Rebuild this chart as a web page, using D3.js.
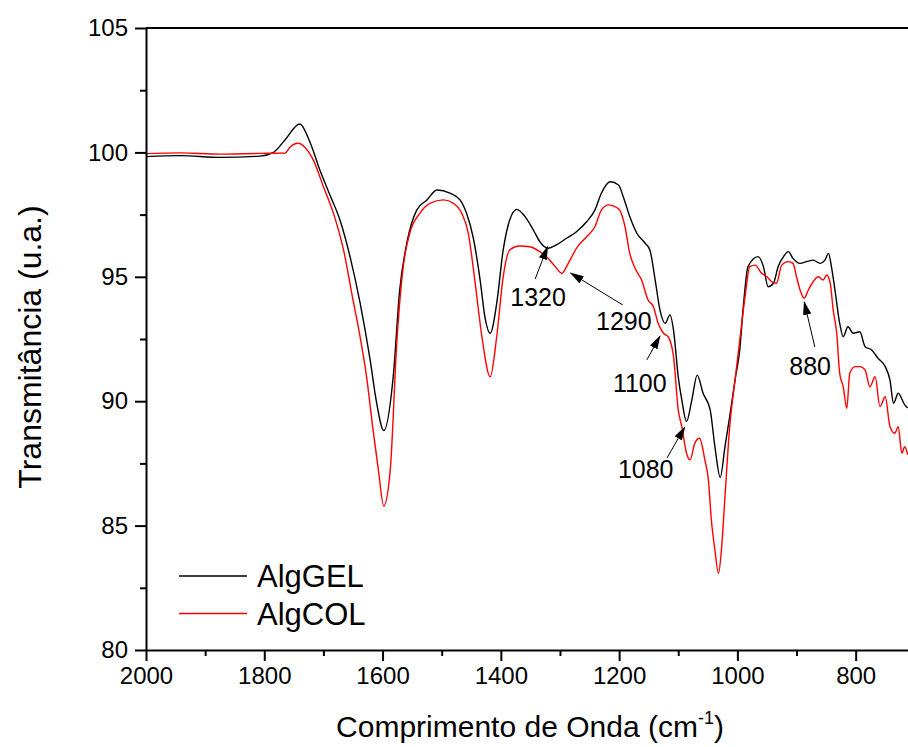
<!DOCTYPE html>
<html>
<head>
<meta charset="utf-8">
<script src="https://cdn.jsdelivr.net/npm/d3@7"></script>
<style>
  html, body { margin: 0; padding: 0; background: #fff; }
  svg { display: block; font-family: "Liberation Sans", Arial, sans-serif; }
</style>
</head>
<body>
<svg id="chart" width="908" height="747"></svg>
<script>
// ---------- DATA ----------
const seriesNames = ["AlgGEL", "AlgCOL"];

const wavenumberGEL = [2000,1942,1875,1807,1785,1765,1740,1723,1706,1689,1672,1655,1638,1621,1610,1598,1582,1571,1559,1542,1525,1508,1486,1469,1458,1447,1435,1427,1418,1407,1396,1385,1373,1359,1345,1334,1320,1306,1289,1272,1255,1241,1230,1215,1201,1193,1182,1170,1156,1148,1139,1131,1122,1114,1108,1100,1094,1086,1077,1068,1058,1046,1038,1029,1021,1013,1004,996,990,982,965,956,948,939,931,922,914,906,894,883,872,860,852,846,841,835,827,821,813,804,793,784,773,762,750,742,736,728,717,712];
const transGEL = [99.83,99.87,99.80,99.85,99.99,100.5,101.14,100.43,99.29,98.29,97.28,95.81,93.95,91.66,89.93,88.82,90.98,94.47,96.35,97.69,98.09,98.49,98.36,98.09,97.55,96.61,94.87,93.40,92.73,93.93,96.08,97.28,97.71,97.42,96.88,96.41,96.15,96.28,96.55,96.81,97.21,97.68,98.36,98.82,98.69,98.22,97.42,96.75,96.35,96.08,94.87,93.67,93.13,93.47,92.86,90.98,90.05,89.18,90.05,91.05,90.32,89.65,88.17,86.94,88.17,89.38,90.85,92.06,93.80,95.41,95.81,95.41,94.6,94.74,95.41,95.81,96.01,95.74,95.54,95.61,95.67,95.54,95.67,95.94,95.41,94.47,93.13,92.59,92.99,92.73,92.79,92.19,92.06,91.72,91.39,90.85,89.92,90.32,89.85,89.73];

const wavenumberCOL = [2000,1942,1875,1807,1765,1757,1743,1731,1717,1700,1683,1666,1650,1638,1627,1616,1607,1598,1587,1576,1565,1554,1537,1520,1497,1480,1466,1455,1444,1432,1418,1407,1396,1385,1368,1351,1334,1320,1308,1297,1286,1272,1255,1241,1230,1218,1207,1199,1190,1182,1173,1162,1151,1142,1134,1125,1117,1108,1100,1094,1086,1080,1072,1064,1055,1049,1044,1038,1032,1027,1021,1013,1004,996,987,979,970,959,950,942,934,925,914,906,900,894,887,880,872,863,855,849,843,838,832,827,821,815,810,801,793,784,776,767,759,750,742,734,728,722,717,712];
const transCOL = [99.95,99.98,99.93,99.96,99.97,100.2,100.37,100.2,99.69,98.62,97.55,96.08,94.07,92.59,90.98,88.84,87.23,85.79,87.23,92.33,95.41,96.75,97.55,97.95,98.09,97.95,97.55,96.75,94.87,92.59,90.98,92.59,95.0,96.08,96.24,96.21,96.01,95.74,95.41,95.14,95.54,96.15,96.61,97.01,97.68,97.89,97.82,97.68,97.01,95.94,95.34,94.87,94.07,93.80,93.13,92.73,92.59,91.79,89.65,88.98,87.91,87.64,88.31,88.51,87.64,86.83,85.23,84.02,83.08,84.02,86.16,88.98,90.85,92.46,94.20,95.41,95.47,95.14,95.0,94.80,94.74,95.47,95.61,95.54,95.0,94.47,94.14,94.47,94.80,95.0,94.87,95.07,94.74,93.67,92.73,91.12,90.58,89.71,91.12,91.39,91.39,91.25,90.58,90.98,89.78,90.18,88.98,88.71,88.98,87.91,88.17,87.84];

const xTicksMajor = [2000, 1800, 1600, 1400, 1200, 1000, 800];
const xTicksMinor = [1900, 1700, 1500, 1300, 1100, 900, 700];
const yTicksMajor = [80, 85, 90, 95, 100, 105];
const yTicksMinor = [82.5, 87.5, 92.5, 97.5, 102.5];

const annLabels = ["1320", "1290", "1100", "1080", "880"];
const annTail = [[1342, 94.91], [1194, 93.87], [1153, 91.66], [1119, 87.72], [869, 92.18]];
const annHead = [[1321, 96.21], [1282, 95.15], [1131, 92.62], [1089, 88.96], [887, 93.99]];
const annText = [[1337, 93.83], [1192, 92.86], [1165, 90.37], [1155, 86.91], [877, 91.05]];

const xTitle = "Comprimento de Onda (cm";
const yTitle = "Transmitância (u.a.)";

// ---------- LAYOUT ----------
const M = { left: 146, right: 908, top: 28, bottom: 650 };
const colors = ["#000000", "#ff0000"];

const svg = d3.select("#chart");

const x = d3.scaleLinear().domain([2000, 711.5]).range([M.left, M.right]);
const y = d3.scaleLinear().domain([80, 105]).range([M.bottom, M.top]);

const defs = svg.append("defs");
defs.append("clipPath").attr("id", "plotclip")
  .append("rect").attr("x", M.left).attr("y", M.top)
  .attr("width", M.right - M.left).attr("height", M.bottom - M.top);

defs.append("marker")
  .attr("id", "arrow")
  .attr("markerUnits", "userSpaceOnUse")
  .attr("markerWidth", 14).attr("markerHeight", 10)
  .attr("refX", 13).attr("refY", 5)
  .attr("orient", "auto")
  .append("path").attr("d", "M0,0.8 L14,5 L0,9.2 Z").attr("fill", "#000");

// ---------- SERIES ----------
const series = [
  { name: seriesNames[0], w: wavenumberGEL, t: transGEL, color: colors[0] },
  { name: seriesNames[1], w: wavenumberCOL, t: transCOL, color: colors[1] }
];

const line = d3.line().x(d => x(d[0])).y(d => y(d[1])).curve(d3.curveMonotoneX);

const plotG = svg.append("g").attr("clip-path", "url(#plotclip)");
series.forEach(s => {
  plotG.append("path")
    .datum(s.w.map((w, i) => [w, s.t[i]]))
    .attr("d", line)
    .attr("fill", "none")
    .attr("stroke", s.color)
    .attr("stroke-width", 1.4)
    .attr("stroke-linejoin", "round");
});

// ---------- AXES ----------
const fontTick = 24;
const fmt = d3.format("d");
svg.append("g").attr("transform", `translate(0,${M.bottom})`)
  .call(d3.axisBottom(x).tickValues(xTicksMajor).tickFormat(fmt).tickSize(11).tickSizeOuter(0).tickPadding(6));
svg.append("g").attr("transform", `translate(0,${M.bottom})`)
  .call(d3.axisBottom(x).tickValues(xTicksMinor.filter(v => v >= 711.5)).tickSize(6).tickSizeOuter(0).tickFormat(""))
  .call(g => g.select(".domain").remove());

svg.append("g").attr("transform", `translate(${M.left},0)`)
  .call(d3.axisLeft(y).tickValues(yTicksMajor).tickFormat(fmt).tickSize(11).tickSizeOuter(0).tickPadding(7));
svg.append("g").attr("transform", `translate(${M.left},0)`)
  .call(d3.axisLeft(y).tickValues(yTicksMinor).tickSize(6).tickSizeOuter(0).tickFormat(""))
  .call(g => g.select(".domain").remove());

// top frame line
svg.append("line")
  .attr("x1", M.left).attr("x2", M.right)
  .attr("y1", M.top).attr("y2", M.top)
  .attr("stroke", "#000").attr("stroke-width", 2);

svg.selectAll(".domain").attr("stroke-width", 2);
svg.selectAll(".tick line").attr("stroke-width", 2);
svg.selectAll(".tick text")
  .attr("font-size", fontTick)
  .attr("font-family", "'Liberation Sans', Arial, sans-serif")
  .attr("fill", "#000");

// ---------- TITLES ----------
const xt = svg.append("text")
  .attr("x", 530).attr("y", 737)
  .attr("text-anchor", "middle")
  .attr("font-size", 30)
  .attr("fill", "#000");
xt.append("tspan").text(xTitle);
xt.append("tspan").attr("dy", -13).attr("font-size", 18).text("-1");
xt.append("tspan").attr("dy", 13).text(")");

svg.append("text")
  .attr("transform", "translate(41,347) rotate(-90)")
  .attr("text-anchor", "middle")
  .attr("font-size", 32)
  .attr("fill", "#000")
  .text(yTitle);

// ---------- LEGEND ----------
const legend = svg.append("g");
series.forEach((s, i) => {
  const ly = 576 + i * 37.5;
  legend.append("line")
    .attr("x1", 179).attr("x2", 247)
    .attr("y1", ly).attr("y2", ly)
    .attr("stroke", s.color).attr("stroke-width", 1.5);
  legend.append("text")
    .attr("x", 257).attr("y", ly + 11)
    .attr("font-size", 31)
    .attr("fill", "#000")
    .text(s.name);
});

// ---------- ANNOTATIONS ----------
const annG = svg.append("g");
annLabels.forEach((lab, i) => {
  annG.append("line")
    .attr("x1", x(annTail[i][0])).attr("y1", y(annTail[i][1]))
    .attr("x2", x(annHead[i][0])).attr("y2", y(annHead[i][1]))
    .attr("stroke", "#000").attr("stroke-width", 1)
    .attr("marker-end", "url(#arrow)");
  annG.append("text")
    .attr("x", x(annText[i][0])).attr("y", y(annText[i][1]))
    .attr("text-anchor", "middle")
    .attr("font-size", 25)
    .attr("fill", "#000")
    .text(lab);
});
</script>
</body>
</html>
